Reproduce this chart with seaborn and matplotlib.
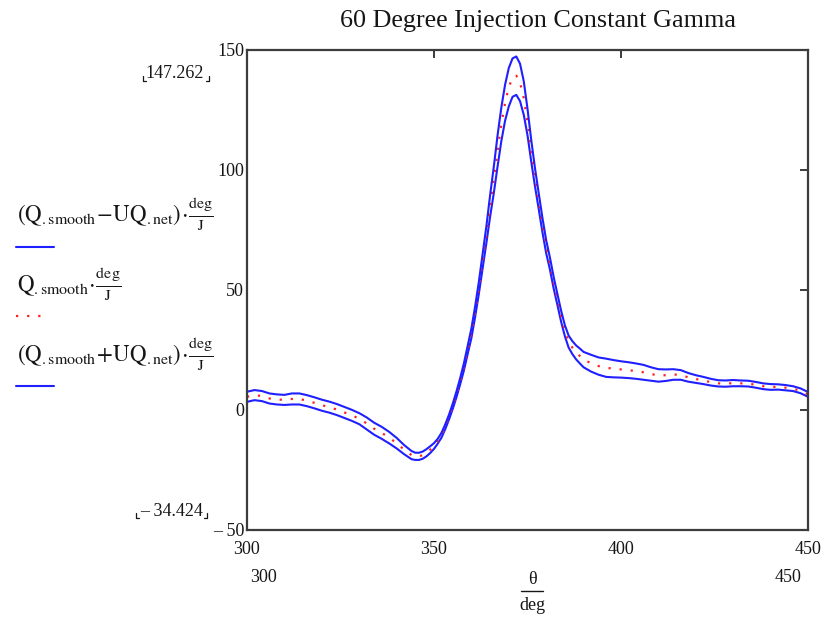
import numpy as np
import pandas as pd
import matplotlib
matplotlib.use("Agg")
import matplotlib.pyplot as plt
from matplotlib.lines import Line2D
import seaborn as sns

# Crank angle (deg) and smoothed net heat release rate with its uncertainty (J/deg)
theta = [300, 302, 304, 306, 308, 310, 312, 314, 316, 318, 320, 322, 324, 326, 328,
         330, 332, 334, 336, 338, 340, 342, 344, 345, 346, 347, 348, 349, 350, 351,
         352, 353, 354, 355, 356, 357, 358, 359, 360, 361, 362, 363, 364, 365, 366,
         367, 368, 369, 370, 371, 372, 373, 374, 375, 376, 377, 378, 379, 380, 381,
         382, 383, 384, 385, 386, 387, 388, 389, 390, 392, 394, 396, 398, 400, 402,
         404, 406, 408, 410, 412, 414, 416, 418, 420, 422, 424, 426, 428, 430, 432,
         434, 436, 438, 440, 442, 444, 446, 448, 450]

q_smooth = [5.5, 6.2, 5.8, 4.8, 4.4, 4.2, 4.6, 4.6, 3.9, 3.0, 2.0, 1.2, 0.2, -1.0, -2.2,
            -3.6, -5.6, -7.8, -9.5, -11.5, -13.8, -16.5, -18.8, -19.3, -19.3, -18.8, -17.8, -16.5, -15.0, -13.0,
            -10.5, -7.0, -3.0, 1.5, 6.5, 12.0, 18.0, 25.0, 32.0, 41.0, 51.0, 62.0, 73.0, 85.0, 96.0,
            108.0, 119.0, 128.0, 134.5, 138.5, 139.3, 136.5, 130.0, 120.0, 108.0, 97.0, 87.0, 77.0, 68.0, 61.0,
            53.0, 46.0, 39.0, 33.0, 28.5, 26.0, 24.0, 22.5, 21.0, 19.5, 18.3, 17.6, 17.2, 16.9, 16.6,
            16.2, 15.7, 15.0, 14.4, 14.5, 14.8, 14.6, 13.6, 12.9, 12.3, 11.6, 11.1, 11.0, 11.2, 11.1,
            11.0, 10.5, 9.9, 9.6, 9.6, 9.3, 8.9, 8.0, 6.5]

uq_net = [2.1, 2.1, 2.1, 2.1, 2.1, 2.1, 2.3, 2.3, 2.3, 2.3, 2.3, 2.3, 2.3, 2.3, 2.3,
          2.3, 2.5, 2.5, 2.5, 2.4, 2.2, 1.9, 1.7, 1.5, 1.5, 1.5, 1.5, 1.4, 1.2, 1.0,
          1.0, 1.0, 1.0, 1.1, 1.2, 1.3, 1.5, 1.7, 2.0, 2.2, 2.5, 3.0, 3.5, 4.5, 5.5,
          6.5, 7.0, 7.5, 8.0, 8.0, 8.0, 7.8, 7.0, 5.5, 4.5, 3.8, 3.3, 3.0, 2.7, 2.5,
          2.4, 2.3, 2.3, 2.3, 2.5, 2.7, 2.9, 3.1, 3.2, 3.5, 3.6, 3.8, 3.6, 3.4, 3.3,
          3.2, 3.1, 2.8, 2.6, 2.4, 2.2, 2.0, 1.8, 1.6, 1.5, 1.4, 1.3, 1.3, 1.3, 1.2,
          1.2, 1.2, 1.2, 1.2, 1.1, 1.1, 1.0, 1.0, 1.0]

x_ticks = [300, 350, 400, 450]
x_tick_labels = ["300", "350", "400", "450"]
y_ticks = [150, 100, 50, 0, -50]
y_tick_labels = ["150", "100", "50", "0", "\u2013 50"]

title = "60 Degree Injection Constant Gamma"
y_range_labels = ["147.262", "\u2013 34.424"]
x_range_labels = ["300", "450"]

sns.set_style("white")
plt.rcParams["font.family"] = ["Liberation Serif", "DejaVu Serif"]
plt.rcParams["mathtext.fontset"] = "stix"

q = np.array(q_smooth)
uq = np.array(uq_net)
df = pd.DataFrame({"theta": theta, "lower": q - uq, "mid": q, "upper": q + uq})

W, H = 830, 621
fig = plt.figure(figsize=(W / 100, H / 100), dpi=100)


def fx(x):
    return x / W


def fy(y):
    return 1 - y / H


ax = fig.add_axes([fx(247), fy(530), (808 - 247) / W, (530 - 50) / H])

blue = "#1f1fff"
red = "#ff2020"
text_col = "#161616"
frame_col = "#3c3c3c"

sns.lineplot(data=df, x="theta", y="lower", ax=ax, color=blue, lw=1.5)
sns.lineplot(data=df, x="theta", y="mid", ax=ax, color=red, lw=1.6,
             linestyle=(0, (1, 4)))
sns.lineplot(data=df, x="theta", y="upper", ax=ax, color=blue, lw=1.5)

ax.set_xlim(300, 450)
ax.set_ylim(-50, 150)
ax.set_xticks(x_ticks)
ax.set_xticklabels(x_tick_labels)
ax.set_yticks(y_ticks)
ax.set_yticklabels(y_tick_labels)
ax.set_xlabel("")
ax.set_ylabel("")
for s in ax.spines.values():
    s.set_visible(True)
    s.set_color(frame_col)
    s.set_linewidth(1.6)
ax.tick_params(axis="both", direction="in", length=6, width=1.4, color=frame_col,
               labelsize=13, labelcolor=text_col, top=True, right=True)
ax.tick_params(axis="y", pad=2)
ax.tick_params(axis="x", pad=8)

# Title
fig.text(fx(538), fy(21), title, ha="center", va="center", fontsize=18.8, color=text_col)

# Legend entries on the left
legend_texts = [
    r"$\left(\mathrm{Q}_{\mathrm{.smooth}}\!-\!\mathrm{UQ}_{\mathrm{.net}}\right)\!\cdot\!\frac{\mathrm{deg}}{\mathrm{J}}$",
    r"$\mathrm{Q}_{\mathrm{.smooth}}\!\cdot\!\frac{\mathrm{deg}}{\mathrm{J}}$",
    r"$\left(\mathrm{Q}_{\mathrm{.smooth}}\!+\!\mathrm{UQ}_{\mathrm{.net}}\right)\!\cdot\!\frac{\mathrm{deg}}{\mathrm{J}}$",
]
text_y = [214, 284, 354]
line_y = [247, 316, 386]
line_x1 = [54, 47, 54]
styles = [dict(color=blue, lw=1.5, ls="-"),
          dict(color=red, lw=1.6, ls=(0, (1, 4))),
          dict(color=blue, lw=1.5, ls="-")]
for t, ty, ly, x1, st in zip(legend_texts, text_y, line_y, line_x1, styles):
    fig.text(fx(17), fy(ty), t, ha="left", va="center", fontsize=16.5, color=text_col)
    fig.add_artist(Line2D([fx(16), fx(x1)], [fy(ly), fy(ly)], transform=fig.transFigure,
                          color=st["color"], lw=st["lw"], linestyle=st["ls"]))


def corner_marks(x0, x1, yb, size=5):
    for xa, sign in ((x0, 1), (x1, -1)):
        fig.add_artist(Line2D([fx(xa), fx(xa), fx(xa + sign * size * 0.6)],
                              [fy(yb - size), fy(yb), fy(yb)],
                              transform=fig.transFigure, color=text_col, lw=0.9))


# Y range placeholders
fig.text(fx(175), fy(74), y_range_labels[0], ha="center", va="center", fontsize=13, color=text_col)
corner_marks(143, 209, 81)
fig.text(fx(172), fy(512), y_range_labels[1], ha="center", va="center", fontsize=13, color=text_col)
corner_marks(136, 207, 518)

# X range placeholders and axis label (theta over deg)
fig.text(fx(263), fy(578), x_range_labels[0], ha="center", va="center", fontsize=13, color=text_col)
fig.text(fx(788), fy(578), x_range_labels[1], ha="center", va="center", fontsize=13, color=text_col)
fig.text(fx(532), fy(580), "\u03b8", ha="center", va="center", fontsize=13, color=text_col)
fig.add_artist(Line2D([fx(521), fx(543)], [fy(591), fy(591)], transform=fig.transFigure,
                      color=text_col, lw=1.0))
fig.text(fx(532), fy(606), "deg", ha="center", va="center", fontsize=13, color=text_col)

fig.savefig("out.png", dpi=100, facecolor="white")
